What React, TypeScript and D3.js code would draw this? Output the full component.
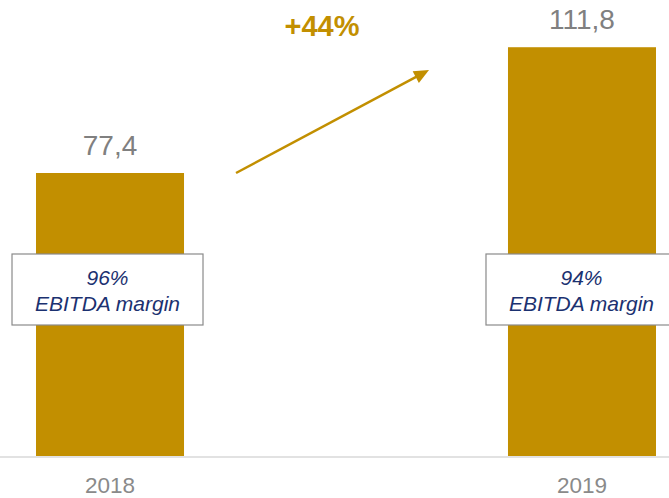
import React from "react";
import * as d3 from "d3";

const years = ["2018", "2019"];
const values = [77.4, 111.8];
const valueLabels = ["77,4", "111,8"];
const margins = ["96%", "94%"];
const growthLabel = "+44%";

const W = 669;
const H = 498;
const GOLD = "#c28f00";
const NAVY = "#1b3170";
const GRAY = "#808080";
const FONT = "'Liberation Sans', Arial, Helvetica, sans-serif";

export default function App() {
  const x = d3.scaleBand<string>().domain(years).range([36, 656]).paddingInner(0.6864).paddingOuter(0);
  const y = d3.scaleLinear().domain([0, 77.4]).range([456, 173]);
  const bw = x.bandwidth();

  // arrow annotation
  const x0 = (x("2018") as number) + bw + 52;
  const y0 = y(values[0]);
  const tip: [number, number] = [429, 70];
  const dx = tip[0] - x0;
  const dy = tip[1] - y0;
  const len = Math.hypot(dx, dy);
  const ux = dx / len;
  const uy = dy / len;
  const hl = 15;
  const hw = 6.6;
  const bx = tip[0] - ux * hl;
  const by = tip[1] - uy * hl;
  const p1 = [bx + -uy * hw, by + ux * hw];
  const p2 = [bx - -uy * hw, by - ux * hw];

  const boxW = 191;
  const boxTop = 254;
  const boxH = 71;
  const boxShift = [-2.5, -0.5];

  return (
    <svg
      width={W}
      height={H}
      style={{ position: "absolute", left: 0, top: 0, background: "#fff" }}
      fontFamily={FONT}
    >
      <rect x={0} y={0} width={W} height={H} fill="#fff" />
      <line x1={0} x2={W} y1={457} y2={457} stroke="#e2e2e2" strokeWidth={2} />
      {years.map((yr, i) => {
        const bxp = x(yr) as number;
        const cx = bxp + bw / 2;
        const bc = cx + boxShift[i];
        return (
          <g key={yr}>
            <rect x={bxp} y={y(values[i])} width={bw} height={y(0) - y(values[i])} fill={GOLD} />
            <text x={cx} y={y(values[i]) - 18} textAnchor="middle" fontSize={28} fill={GRAY}>
              {valueLabels[i]}
            </text>
            <text x={cx} y={493} textAnchor="middle" fontSize={22.5} fill="#8a8a8a">
              {yr}
            </text>
            <rect
              x={bc - boxW / 2}
              y={boxTop}
              width={boxW}
              height={boxH}
              fill="#fff"
              stroke="#8a8a8a"
              strokeWidth={1.2}
            />
            <text x={bc} y={285} textAnchor="middle" fontSize={21} fontStyle="italic" fill={NAVY}>
              {margins[i]}
            </text>
            <text x={bc} y={311} textAnchor="middle" fontSize={21} fontStyle="italic" fill={NAVY}>
              EBITDA margin
            </text>
          </g>
        );
      })}
      <line x1={x0} y1={y0} x2={bx + ux * 2} y2={by + uy * 2} stroke={GOLD} strokeWidth={2.5} />
      <polygon points={`${tip[0]},${tip[1]} ${p1[0]},${p1[1]} ${p2[0]},${p2[1]}`} fill={GOLD} />
      <text x={322} y={36} textAnchor="middle" fontSize={29} fontWeight="bold" fill={GOLD}>
        {growthLabel}
      </text>
    </svg>
  );
}
